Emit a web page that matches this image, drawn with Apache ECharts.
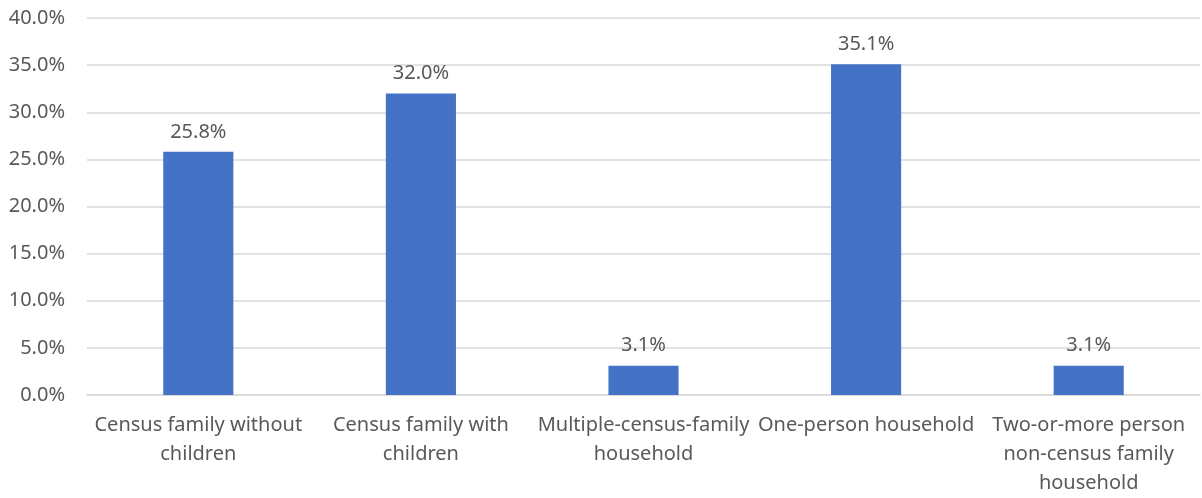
<!DOCTYPE html>
<html>
<head>
<meta charset="utf-8">
<script src="https://cdn.jsdelivr.net/npm/echarts@6/dist/echarts.min.js"></script>
<style>
  html, body { margin: 0; padding: 0; background: #fff; }
  #chart { width: 1202px; height: 498px; }
</style>
</head>
<body>
<div id="chart"></div>
<script>
// Household types (line breaks follow the axis label wrapping)
const categories = [
  'Census family without\nchildren',
  'Census family with\nchildren',
  'Multiple-census-family\nhousehold',
  'One-person household',
  'Two-or-more person\nnon-census family\nhousehold'
];
// Share of households, percent
const shares = [25.8, 32.0, 3.1, 35.1, 3.1];

const FONT = '"Noto Sans", sans-serif';
const TEXT = '#595959';
const SIZE = 20;

const chart = echarts.init(document.getElementById('chart'), null, { renderer: 'canvas' });
chart.setOption({
  animation: false,
  backgroundColor: '#ffffff',
  grid: { left: 87, right: 2, top: 18, bottom: 99, containLabel: false },
  xAxis: {
    type: 'category',
    data: categories,
    axisLine: { show: true, lineStyle: { color: '#d9d9d9', width: 1.5 } },
    axisTick: { show: false },
    axisLabel: {
      interval: 0,
      color: TEXT,
      fontFamily: FONT,
      fontSize: SIZE,
      lineHeight: 29,
      margin: 16
    }
  },
  yAxis: {
    type: 'value',
    min: 0,
    max: 40,
    interval: 5,
    axisLine: { show: false },
    axisTick: { show: false },
    splitLine: { lineStyle: { color: '#d9d9d9', width: 1.5 } },
    axisLabel: {
      color: TEXT,
      fontFamily: FONT,
      fontSize: SIZE,
      margin: 22,
      formatter: v => v.toFixed(1) + '%'
    }
  },
  series: [{
    type: 'bar',
    data: shares,
    barWidth: '31.5%',
    itemStyle: { color: '#4472c4' },
    label: {
      show: true,
      position: 'top',
      distance: 10,
      color: TEXT,
      fontFamily: FONT,
      fontSize: SIZE,
      formatter: p => p.value.toFixed(1) + '%'
    }
  }]
});
</script>
</body>
</html>
